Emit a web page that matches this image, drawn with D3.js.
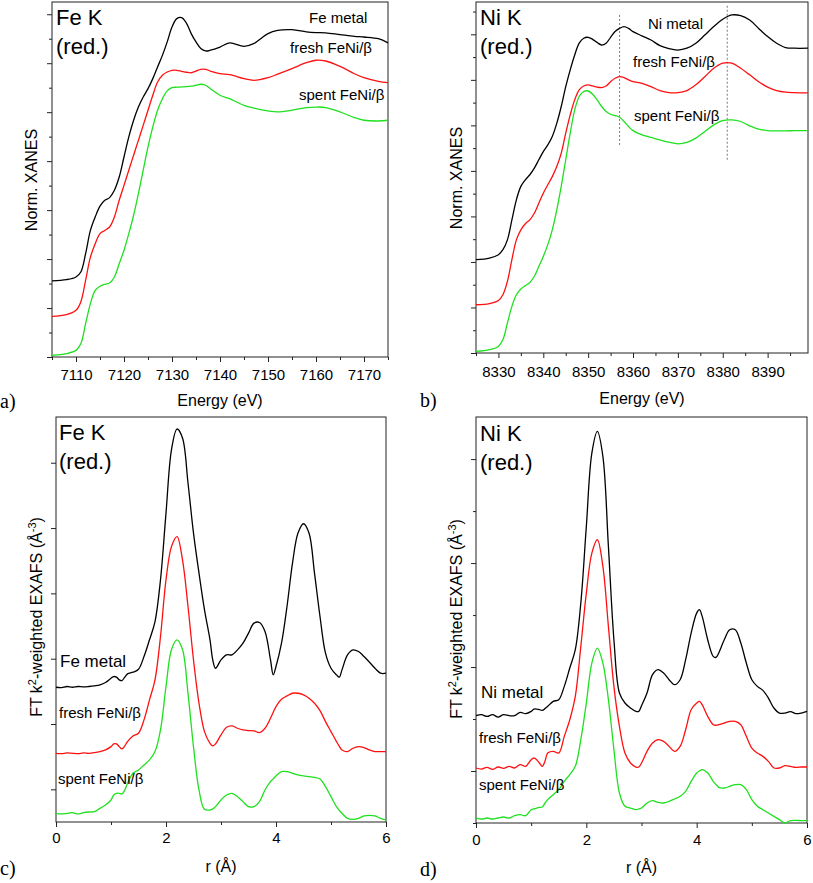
<!DOCTYPE html>
<html><head><meta charset="utf-8">
<script src="https://cdn.jsdelivr.net/npm/d3@7"></script>
<style>
body{margin:0;background:#fff}
svg{display:block}
text{font-family:"Liberation Sans",Arial,Helvetica,sans-serif;fill:#000}
</style>
</head><body>
<svg id="fig" width="813" height="883"></svg>
<script>
// ---------------- DATA ----------------
// a) Fe K-edge XANES (normalized, offset)
const feEnergy = [7105,7108,7110,7111,7112,7113,7114,7115,7116,7117,7118,7119,7120,7121,7122,7123,7124,7125,7126,7127,7128,7129,7130,7131,7132,7133,7134,7135,7136,7137,7138,7140,7142,7145,7147,7150,7152,7155,7158,7160,7162,7165,7168,7170,7173,7175];
const feMetalXanes = [0.311,0.316,0.327,0.347,0.422,0.517,0.572,0.616,0.640,0.651,0.681,0.735,0.817,0.899,0.967,1.021,1.062,1.096,1.137,1.185,1.232,1.287,1.348,1.382,1.386,1.364,1.321,1.287,1.260,1.250,1.253,1.266,1.283,1.269,1.280,1.321,1.334,1.337,1.328,1.325,1.324,1.317,1.310,1.307,1.300,1.283];
const feFreshXanes = [0.166,0.173,0.191,0.225,0.313,0.408,0.463,0.504,0.517,0.531,0.572,0.640,0.701,0.763,0.824,0.885,0.946,1.008,1.069,1.123,1.151,1.164,1.171,1.171,1.167,1.163,1.161,1.168,1.175,1.175,1.168,1.157,1.153,1.137,1.130,1.141,1.155,1.178,1.202,1.212,1.209,1.187,1.157,1.141,1.126,1.121];
const feSpentXanes = [0.007,0.014,0.027,0.054,0.136,0.218,0.272,0.289,0.297,0.302,0.327,0.381,0.436,0.504,0.579,0.667,0.763,0.858,0.940,1.008,1.055,1.087,1.100,1.102,1.103,1.104,1.106,1.110,1.114,1.110,1.096,1.069,1.055,1.028,1.017,1.005,1.001,1.008,1.019,1.021,1.019,1.001,0.978,0.967,0.964,0.967];
const feEnergyTicks = [7110,7120,7130,7140,7150,7160,7170];

// b) Ni K-edge XANES
const niEnergy = [8325,8328,8330,8331,8332,8333,8334,8335,8336,8337,8338,8339,8340,8341,8342,8343,8344,8345,8346,8347,8348,8349,8350,8351,8352,8353,8354,8355,8356,8357,8358,8359,8360,8362,8364,8366,8368,8370,8372,8374,8376,8378,8380,8382,8384,8386,8388,8390,8392,8394,8396,8399];
const niMetalXanes = [0.410,0.417,0.432,0.454,0.497,0.585,0.673,0.732,0.761,0.783,0.812,0.849,0.885,0.914,0.951,1.009,1.083,1.170,1.244,1.309,1.361,1.383,1.387,1.378,1.364,1.353,1.361,1.387,1.412,1.426,1.434,1.426,1.412,1.393,1.375,1.350,1.337,1.331,1.339,1.361,1.397,1.434,1.466,1.485,1.482,1.463,1.426,1.390,1.361,1.342,1.339,1.339];
const niFreshXanes = [0.212,0.217,0.231,0.256,0.315,0.410,0.497,0.541,0.568,0.585,0.614,0.658,0.702,0.739,0.775,0.819,0.878,0.966,1.046,1.112,1.156,1.173,1.178,1.173,1.168,1.166,1.173,1.192,1.207,1.214,1.210,1.200,1.192,1.185,1.170,1.153,1.144,1.144,1.153,1.178,1.214,1.251,1.273,1.273,1.251,1.222,1.192,1.168,1.153,1.146,1.144,1.143];
const niSpentXanes = [0.007,0.015,0.029,0.059,0.132,0.205,0.256,0.281,0.296,0.310,0.337,0.380,0.424,0.476,0.541,0.629,0.732,0.849,0.966,1.068,1.127,1.149,1.151,1.137,1.112,1.083,1.061,1.049,1.043,1.036,1.017,0.995,0.977,0.958,0.947,0.936,0.926,0.919,0.925,0.944,0.973,1.002,1.021,1.024,1.017,0.998,0.983,0.977,0.976,0.976,0.977,0.977];
const niEnergyTicks = [8330,8340,8350,8360,8370,8380,8390];
const niMarkers = [8357, 8381];          // dotted reference energies
const niMarkerLow = [0.914, 0.849];
const niMarkerHigh = [1.494, 1.529];

// c) Fe K FT EXAFS
const rFe = [0,0.1,0.2,0.3,0.4,0.5,0.6,0.7,0.8,0.9,1.0,1.05,1.1,1.15,1.2,1.25,1.3,1.4,1.5,1.6,1.7,1.8,1.9,2.0,2.1,2.2,2.3,2.4,2.5,2.6,2.7,2.8,2.85,2.9,3.0,3.1,3.2,3.3,3.4,3.5,3.6,3.7,3.8,3.9,3.95,4.0,4.1,4.2,4.3,4.4,4.5,4.6,4.7,4.8,4.9,5.0,5.1,5.15,5.2,5.3,5.4,5.5,5.6,5.7,5.8,5.9,6.0];
const feMetalFT = [2.063,2.058,2.074,2.063,2.074,2.068,2.074,2.084,2.099,2.135,2.201,2.227,2.217,2.176,2.165,2.217,2.268,2.293,2.339,2.533,2.789,3.069,3.708,4.729,5.700,6.016,5.878,5.189,4.423,3.810,3.248,2.789,2.482,2.354,2.482,2.559,2.559,2.635,2.737,2.891,3.044,3.054,2.916,2.482,2.252,2.380,2.737,3.299,3.963,4.423,4.566,4.423,3.810,3.146,2.584,2.354,2.252,2.217,2.329,2.559,2.635,2.610,2.533,2.446,2.354,2.278,2.278];
const feFreshFT = [1.052,1.047,1.057,1.052,1.047,1.057,1.052,1.062,1.078,1.103,1.154,1.195,1.195,1.154,1.118,1.164,1.231,1.318,1.359,1.563,1.869,2.176,2.840,3.708,4.218,4.370,4.014,3.299,2.482,1.818,1.384,1.205,1.164,1.195,1.333,1.450,1.471,1.435,1.410,1.399,1.394,1.369,1.435,1.588,1.680,1.767,1.879,1.931,1.971,1.971,1.946,1.895,1.818,1.706,1.537,1.384,1.231,1.160,1.103,1.078,1.129,1.154,1.139,1.103,1.078,1.078,1.078];
const feSpentFT = [0.133,0.123,0.133,0.143,0.123,0.143,0.153,0.158,0.209,0.260,0.337,0.414,0.439,0.439,0.429,0.490,0.592,0.746,0.797,0.873,0.950,1.078,1.410,2.074,2.640,2.789,2.640,1.970,1.150,0.490,0.194,0.184,0.200,0.235,0.337,0.414,0.439,0.388,0.312,0.235,0.235,0.312,0.490,0.618,0.660,0.705,0.771,0.771,0.746,0.720,0.705,0.695,0.684,0.659,0.541,0.388,0.235,0.180,0.133,0.056,0.041,0.056,0.092,0.102,0.092,0.056,0.031];

// d) Ni K FT EXAFS
const rNi = [0,0.1,0.2,0.3,0.4,0.5,0.6,0.7,0.8,0.9,1.0,1.05,1.1,1.15,1.2,1.25,1.3,1.4,1.5,1.6,1.7,1.8,1.9,2.0,2.1,2.2,2.3,2.4,2.5,2.6,2.7,2.8,2.9,2.95,3.0,3.1,3.2,3.3,3.4,3.5,3.6,3.7,3.8,3.9,4.0,4.05,4.1,4.2,4.3,4.35,4.4,4.5,4.6,4.7,4.8,4.9,5.0,5.1,5.2,5.3,5.4,5.5,5.6,5.7,5.8,5.9,6.0];
const niMetalFT = [2.064,2.083,2.051,2.083,2.038,2.083,2.064,2.064,2.128,2.103,2.147,2.190,2.192,2.180,2.167,2.200,2.244,2.340,2.372,2.628,2.981,3.333,4.231,5.705,7.115,7.532,7.051,5.321,3.526,2.500,2.308,2.212,2.147,2.147,2.256,2.500,2.853,2.949,2.885,2.756,2.660,2.756,3.141,3.654,4.038,4.103,3.974,3.526,3.205,3.186,3.269,3.526,3.718,3.718,3.462,3.077,2.756,2.628,2.551,2.404,2.212,2.115,2.115,2.141,2.103,2.115,2.147];
const niFreshFT = [1.058,1.038,1.071,1.032,1.077,1.051,1.090,1.058,1.122,1.090,1.218,1.250,1.218,1.154,1.090,1.186,1.346,1.378,1.346,1.667,1.987,2.436,3.397,4.423,5.192,5.449,4.936,3.782,2.628,1.859,1.346,1.154,1.077,1.077,1.154,1.378,1.538,1.603,1.571,1.474,1.378,1.474,1.795,2.179,2.308,2.340,2.276,2.051,1.891,1.880,1.891,1.923,1.955,1.955,1.891,1.667,1.442,1.346,1.282,1.186,1.058,1.058,1.103,1.090,1.071,1.077,1.077];
const niSpentFT = [0.096,0.077,0.096,0.077,0.096,0.115,0.096,0.141,0.160,0.141,0.256,0.270,0.288,0.300,0.308,0.380,0.449,0.545,0.641,0.801,0.929,1.090,1.603,2.308,3.077,3.365,3.077,2.372,1.410,0.577,0.321,0.288,0.256,0.270,0.288,0.385,0.429,0.397,0.385,0.417,0.462,0.513,0.609,0.801,0.962,1.000,1.026,0.962,0.801,0.740,0.686,0.673,0.705,0.737,0.737,0.641,0.449,0.321,0.256,0.192,0.128,0.064,0.000,0.045,0.051,0.045,0.045];
const rTicks = [0,2,4,6];
const rMinorTicks = [1,3,5];

const sampleNames = ["metal", "fresh FeNi/\u03b2", "spent FeNi/\u03b2"];

// ---------------- DRAWING ----------------
const COLORS = ["#000000", "#ff1010", "#1ee01e"];
const svg = d3.select("#fig");

function check(xs, ys, name){ if (xs.length !== ys.length) throw new Error("length mismatch " + name + " " + xs.length + " vs " + ys.length); }

function panel(cfg){
  const g = svg.append("g");
  const x = d3.scaleLinear().domain(cfg.xDomain).range([cfg.l, cfg.r]);
  const y = d3.scaleLinear().domain(cfg.yDomain).range([cfg.b, cfg.t]);

  // frame
  g.append("rect").attr("x", cfg.l).attr("y", cfg.t)
    .attr("width", cfg.r - cfg.l).attr("height", cfg.b - cfg.t)
    .attr("fill", "none").attr("stroke", "#222").attr("stroke-width", 1);

  // x axis major
  const xa = g.append("g").attr("transform", `translate(0,${cfg.b})`)
    .call(d3.axisBottom(x).tickValues(cfg.xMajor).tickSize(5).tickFormat(d3.format("d")));
  xa.select(".domain").remove();
  xa.selectAll("line").attr("stroke", "#222");
  xa.selectAll("text").attr("y", cfg.xLabelY - cfg.b).attr("dy", 0)
    .style("font-size", "15px").style("font-family", '"Liberation Sans",Arial,sans-serif').attr("fill", "#000");
  // x axis minor
  const xm = g.append("g").attr("transform", `translate(0,${cfg.b})`)
    .call(d3.axisBottom(x).tickValues(cfg.xMinor).tickSize(3).tickFormat(""));
  xm.select(".domain").remove();
  xm.selectAll("line").attr("stroke", "#222");

  // y axis major / minor
  const ya = g.append("g").attr("transform", `translate(${cfg.l},0)`)
    .call(d3.axisLeft(y).tickValues(cfg.yMajor).tickSize(5).tickFormat(""));
  ya.select(".domain").remove();
  ya.selectAll("line").attr("stroke", "#222");
  if (cfg.yMinor.length){
    const ym = g.append("g").attr("transform", `translate(${cfg.l},0)`)
      .call(d3.axisLeft(y).tickValues(cfg.yMinor).tickSize(3).tickFormat(""));
    ym.select(".domain").remove();
    ym.selectAll("line").attr("stroke", "#222");
  }

  // reference dotted lines
  if (cfg.markers){
    cfg.markers.forEach((m, i) => {
      g.append("line").attr("x1", x(m)).attr("x2", x(m))
        .attr("y1", y(cfg.markerLow[i])).attr("y2", y(cfg.markerHigh[i]))
        .attr("stroke", "#777").attr("stroke-width", 1).attr("stroke-dasharray", "2,2");
    });
  }

  // series
  const line = d3.line().curve(d3.curveCatmullRom.alpha(0.5));
  cfg.series.forEach((s, i) => {
    check(cfg.xs, s, cfg.name + i);
    const pts = cfg.xs.map((v, k) => [x(v), y(s[k])]);
    g.append("path").attr("d", line(pts)).attr("fill", "none")
      .attr("stroke", COLORS[i]).attr("stroke-width", 1.3).attr("stroke-linejoin", "round");
  });

  // series labels
  cfg.labels.forEach(lb => {
    g.append("text").attr("x", lb.x).attr("y", lb.y).style("font-size", lb.fs + "px").text(lb.text);
  });

  // title
  g.append("text").attr("x", cfg.titleX).attr("y", cfg.titleY).style("font-size", "22px").text(cfg.title);
  g.append("text").attr("x", cfg.titleX).attr("y", cfg.titleY + 28.5).style("font-size", "22px").text("(red.)");

  // axis titles
  g.append("text").attr("x", (cfg.l + cfg.r) / 2).attr("y", cfg.xTitleY)
    .attr("text-anchor", "middle").style("font-size", "16px").text(cfg.xTitle);
  const yt = g.append("text").attr("transform", `translate(${cfg.yTitleX},${cfg.yTitleY}) rotate(-90)`)
    .attr("text-anchor", "middle").style("font-size", "16px");
  if (cfg.ft){
    yt.append("tspan").text("FT k");
    yt.append("tspan").attr("baseline-shift", "super").style("font-size", "11px").text("2");
    yt.append("tspan").text("-weighted EXAFS (\u00c5");
    yt.append("tspan").attr("baseline-shift", "super").style("font-size", "11px").text("-3");
    yt.append("tspan").text(")");
  } else {
    yt.text(cfg.yTitle);
  }

  // panel letter
  g.append("text").attr("x", cfg.letterX).attr("y", cfg.letterY)
    .style("font-family", '"Liberation Serif","Times New Roman",serif').style("font-size", "20px").text(cfg.letter);
}

panel({
  name: "a", l: 52, t: 2, r: 388, b: 357,
  xDomain: [7105, 7175], yDomain: [0, 1.45],
  xMajor: feEnergyTicks, xMinor: [7105,7115,7125,7135,7145,7155,7165,7175],
  yMajor: [0,0.2,0.4,0.6,0.8,1.0,1.2,1.4], yMinor: [0.1,0.3,0.5,0.7,0.9,1.1,1.3],
  xs: feEnergy, series: [feMetalXanes, feFreshXanes, feSpentXanes],
  labels: [
    {text: "Fe " + sampleNames[0], x: 309, y: 23, fs: 15},
    {text: sampleNames[1], x: 290, y: 53, fs: 15},
    {text: sampleNames[2], x: 299, y: 100, fs: 15}
  ],
  title: "Fe K", titleX: 56, titleY: 25,
  xTitle: "Energy (eV)", xTitleY: 406, xLabelY: 380,
  yTitle: "Norm. XANES", yTitleX: 37, yTitleY: 180,
  letter: "a)", letterX: 0, letterY: 408
});

panel({
  name: "b", l: 476, t: 2, r: 808, b: 353,
  xDomain: [8325, 8399], yDomain: [0, 1.542],
  xMajor: niEnergyTicks, xMinor: [8325,8335,8345,8355,8365,8375,8385,8395],
  yMajor: [0,0.2,0.4,0.6,0.8,1.0,1.2,1.4], yMinor: [0.1,0.3,0.5,0.7,0.9,1.1,1.3,1.5],
  xs: niEnergy, series: [niMetalXanes, niFreshXanes, niSpentXanes],
  markers: niMarkers, markerLow: niMarkerLow, markerHigh: niMarkerHigh,
  labels: [
    {text: "Ni " + sampleNames[0], x: 648, y: 29, fs: 15},
    {text: sampleNames[1], x: 633, y: 67, fs: 15},
    {text: sampleNames[2], x: 634, y: 121, fs: 15}
  ],
  title: "Ni K", titleX: 480, titleY: 25,
  xTitle: "Energy (eV)", xTitleY: 404, xLabelY: 377,
  yTitle: "Norm. XANES", yTitleX: 462, yTitleY: 178,
  letter: "b)", letterX: 420, letterY: 407
});

panel({
  name: "c", l: 56, t: 417, r: 386, b: 822,
  xDomain: [0, 6], yDomain: [0, 6.2],
  xMajor: rTicks, xMinor: rMinorTicks,
  yMajor: [0.5,1.5,2.5,3.5,4.5,5.5], yMinor: [],
  xs: rFe, series: [feMetalFT, feFreshFT, feSpentFT],
  labels: [
    {text: "Fe " + sampleNames[0], x: 60, y: 667, fs: 17},
    {text: sampleNames[1], x: 59, y: 718, fs: 15},
    {text: sampleNames[2], x: 58, y: 784, fs: 15}
  ],
  title: "Fe K", titleX: 59, titleY: 440,
  xTitle: "r (\u00c5)", xTitleY: 872, xLabelY: 843,
  ft: true, yTitleX: 42, yTitleY: 617,
  letter: "c)", letterX: 0, letterY: 875
});

panel({
  name: "d", l: 476, t: 417, r: 807, b: 823,
  xDomain: [0, 6], yDomain: [0, 7.81],
  xMajor: rTicks, xMinor: rMinorTicks,
  yMajor: [1,3,5,7], yMinor: [0,2,4,6],
  xs: rNi, series: [niMetalFT, niFreshFT, niSpentFT],
  labels: [
    {text: "Ni " + sampleNames[0], x: 481, y: 698, fs: 17},
    {text: sampleNames[1], x: 479, y: 743, fs: 15},
    {text: sampleNames[2], x: 479, y: 790, fs: 15}
  ],
  title: "Ni K", titleX: 480, titleY: 441,
  xTitle: "r (\u00c5)", xTitleY: 873, xLabelY: 845,
  ft: true, yTitleX: 462, yTitleY: 619,
  letter: "d)", letterX: 420, letterY: 876
});
</script>
</body></html>
